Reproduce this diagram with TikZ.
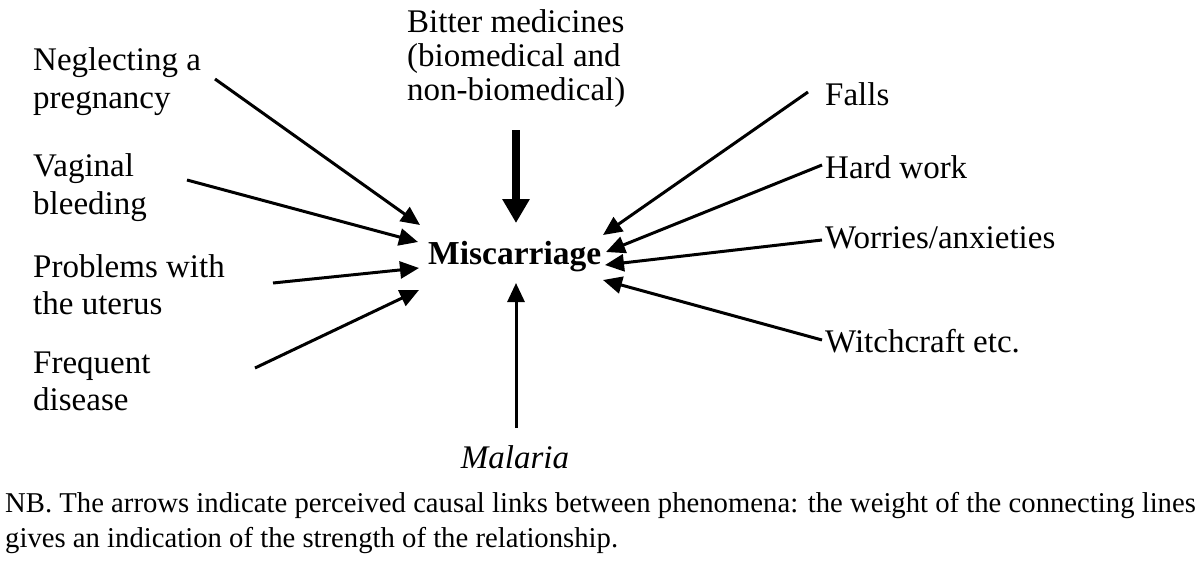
\documentclass[tikz,border=0pt]{standalone}
\usepackage{fontspec}
\setmainfont{Liberation Serif}
\usetikzlibrary{arrows.meta}
\newcommand{\twolines}[3]{\vtop{\baselineskip=#1\lineskiplimit=-100pt\lineskip=0pt\hbox{#2}\hbox{#3}}}
\newcommand{\threelines}[4]{\vtop{\baselineskip=#1\lineskiplimit=-100pt\lineskip=0pt\hbox{#2}\hbox{#3}\hbox{#4}}}
\begin{document}
\begin{tikzpicture}[x=1pt,y=-1pt,
  lbl/.style={anchor=base west,inner sep=0pt,font=\fontsize{33}{38}\selectfont},
  cause/.style={line width=3pt,-{Triangle[length=19pt,width=17pt]}},
  strong/.style={line width=8pt,-{Triangle[length=24pt,width=26pt]}}]
\useasboundingbox (0,0) rectangle (1200,560);
% labels
\node[lbl] (bitter) at (407,32) {\threelines{34pt}{Bitter medicines}{(biomedical and}{non-biomedical)}};
\node[lbl] (neg) at (33,70) {\twolines{38pt}{Neglecting a}{pregnancy}};
\node[lbl] (vag) at (33,176) {\twolines{38pt}{Vaginal}{bleeding}};
\node[lbl] (ute) at (33,277) {\twolines{37pt}{Problems with}{the uterus}};
\node[lbl] (freq) at (33,373) {\twolines{37pt}{Frequent}{disease}};
\node[lbl] (falls) at (825,105) {Falls};
\node[lbl] (hard) at (825,178) {Hard work};
\node[lbl] (worr) at (825,248) {Worries/anxieties};
\node[lbl] (witch) at (825,352) {Witchcraft etc.};
\node[inner sep=0pt,anchor=base,font=\fontsize{33}{38}\selectfont\itshape] (mal) at (515,468) {Malaria};
\node[anchor=base west,inner sep=0pt,font=\fontsize{33.5}{38}\selectfont\bfseries] (mis) at (428,264) {Miscarriage};
\node[anchor=base west,inner sep=0pt,font=\fontsize{28.7}{35}\selectfont] (nb) at (5,512)
  {\twolines{35pt}{NB. The arrows indicate perceived causal links between phenomena: the weight of the connecting lines}{gives an indication of the strength of the relationship.}};
% connector ends
\coordinate (negS) at (215,79);   \coordinate (negT) at (420,225);
\coordinate (vagS) at (187,180);  \coordinate (vagT) at (418,242);
\coordinate (uteS) at (273,283);  \coordinate (uteT) at (419,268);
\coordinate (freqS) at (255,368); \coordinate (freqT) at (419,290);
\coordinate (bitS) at (516,130);  \coordinate (bitT) at (516,223);
\coordinate (malS) at (516,428);  \coordinate (malT) at (516,283);
\coordinate (fallS) at (808,92);  \coordinate (fallT) at (603,235);
\coordinate (hardS) at (822,165); \coordinate (hardT) at (606,252);
\coordinate (worS) at (822,240);  \coordinate (worT) at (605,265);
\coordinate (witS) at (822,340);  \coordinate (witT) at (603,280);
% connectors
\draw[cause] (negS) -- (negT);
\draw[cause] (vagS) -- (vagT);
\draw[cause] (uteS) -- (uteT);
\draw[cause] (freqS) -- (freqT);
\draw[strong] (bitS) -- (bitT);
\draw[cause] (malS) -- (malT);
\draw[cause] (fallS) -- (fallT);
\draw[cause] (hardS) -- (hardT);
\draw[cause] (worS) -- (worT);
\draw[cause] (witS) -- (witT);
\end{tikzpicture}
\end{document}
